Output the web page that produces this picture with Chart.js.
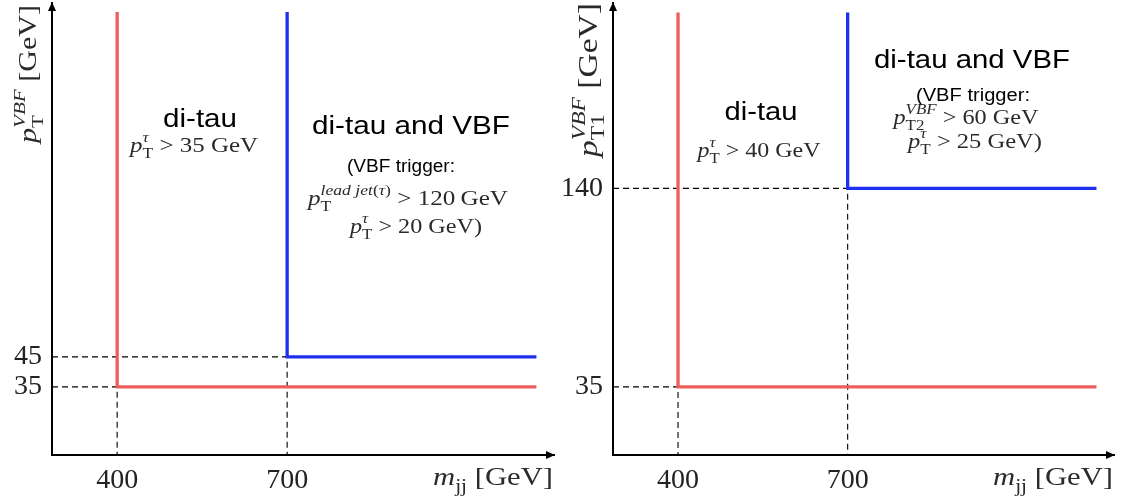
<!DOCTYPE html>
<html>
<head>
<meta charset="utf-8">
<script src="https://cdn.jsdelivr.net/npm/chart.js@4.4.1/dist/chart.umd.min.js"></script>
<style>
  html, body { margin: 0; padding: 0; background: #fff; }
  .wrap { display: flex; width: 1127px; height: 497px; }
  canvas { display: block; }
</style>
</head>
<body>
<div class="wrap">
  <canvas id="left" width="560" height="497"></canvas>
  <canvas id="right" width="567" height="497"></canvas>
</div>
<script>
// m_jj cuts, shared by both panels
const mjjCuts = [400, 700];
const mjjTickLabels = ['400', '700'];
const mjjRange = [285, 1171];
const mjjEnd = 1140;

// left panel: pT^VBF cuts (red = di-tau, blue = di-tau and VBF)
const leftPtCuts = [35, 45];
const leftPtTickLabels = ['35', '45'];
const leftPtRange = [12.3, 163];
const leftPtTop = 160;

// right panel: pT1^VBF cuts
const rightPtCuts = [35, 140];
const rightPtTickLabels = ['35', '140'];
const rightPtRange = [-1, 238];
const rightPtTop = 233;

const RED = '#ee5d5d';
const BLUE = '#1f2ff0';
const SERIF = '"Liberation Serif", "Times New Roman", serif';
const SANS = '"Liberation Sans", Arial, sans-serif';

function runFont(kind, size) {
    if (kind === 's') return size + 'px ' + SANS;
    if (kind === 'i') return 'italic ' + size + 'px ' + SERIF;
    return size + 'px ' + SERIF;
}

// runs: [text, kind, level]  level 1 = superscript, -1 = subscript
function layoutRuns(ctx, runs, size) {
    let x = 0, maxX = 0, scriptStart = 0, prev = 0;
    const items = [];
    runs.forEach(([t, kind, level]) => {
        const s = level ? size * 0.7 : size;
        const font = runFont(kind, s);
        ctx.font = font;
        if (level && prev && level !== prev) x = scriptStart;
        else if (level && !prev) scriptStart = x;
        else if (!level && prev) x = maxX;
        const dy = level > 0 ? -0.46 * size : level < 0 ? 0.27 * size : 0;
        items.push({ t, font, x, dy });
        x += ctx.measureText(t).width;
        maxX = Math.max(maxX, x);
        prev = level;
    });
    return { items, width: maxX };
}

function drawMath(ctx, spec) {
    const { runs, x, y, size, w, align = 'center', rotate = false, color = '#2a2a2a' } = spec;
    ctx.save();
    const lay = layoutRuns(ctx, runs, size);
    const sx = w ? w / lay.width : 1;
    const total = lay.width * sx;
    ctx.translate(x, y);
    if (rotate) ctx.rotate(-Math.PI / 2);
    ctx.translate(align === 'center' ? -total / 2 : align === 'right' ? -total : 0, 0);
    ctx.scale(sx, 1);
    ctx.fillStyle = color;
    ctx.textAlign = 'left';
    ctx.textBaseline = 'alphabetic';
    lay.items.forEach(it => {
        ctx.font = it.font;
        ctx.fillText(it.t, it.x, it.dy);
    });
    ctx.restore();
}

// arrows on the axes + all the labels
const decoPlugin = {
    id: 'deco',
    afterDraw(chart, args, opts) {
        const { ctx, chartArea: a } = chart;
        ctx.save();
        ctx.fillStyle = '#000';
        ctx.beginPath();
        ctx.moveTo(a.right + 1, a.bottom);
        ctx.lineTo(a.right - 8, a.bottom - 4);
        ctx.lineTo(a.right - 8, a.bottom + 4);
        ctx.closePath();
        ctx.fill();
        ctx.beginPath();
        ctx.moveTo(a.left, a.top - 1);
        ctx.lineTo(a.left - 4, a.top + 8);
        ctx.lineTo(a.left + 4, a.top + 8);
        ctx.closePath();
        ctx.fill();
        ctx.restore();
        (opts.texts || []).forEach(t => drawMath(ctx, t));
    }
};

const ptTau = (rest) => [['p', 'i', 0], ['T', 'r', -1], ['τ', 'i', 1], [rest, 'r', 0]];
const mjjTitle = [['m', 'i', 0], ['jj', 'r', -1], [' [GeV]', 'r', 0]];

function makePanel(id, cfg) {
    const [xMin, xMax] = mjjRange;
    const [yMin, yMax] = cfg.yRange;
    const cuts = cfg.yCuts;
    const colored = [
        { data: [{ x: mjjCuts[0], y: cfg.top }, { x: mjjCuts[0], y: cuts[0] }, { x: mjjEnd, y: cuts[0] }], borderColor: RED },
        { data: [{ x: mjjCuts[1], y: cfg.top }, { x: mjjCuts[1], y: cuts[1] }, { x: mjjEnd, y: cuts[1] }], borderColor: BLUE }
    ].map(d => ({ ...d, borderWidth: 3.3, borderJoinStyle: 'miter' }));
    const dashed = cuts.map((c, i) => ({
        data: [{ x: xMin, y: c }, { x: mjjCuts[i], y: c }, { x: mjjCuts[i], y: yMin }],
        borderColor: '#000',
        borderWidth: 1.1,
        borderDash: [6, 4]
    }));

    new Chart(document.getElementById(id), {
        type: 'scatter',
        data: { datasets: colored.concat(dashed).map(d => ({ ...d, showLine: true, pointRadius: 0, fill: false })) },
        plugins: [decoPlugin],
        options: {
            responsive: false,
            animation: false,
            devicePixelRatio: 1,
            layout: { padding: { top: 3, right: cfg.padRight, left: 0, bottom: 0 } },
            plugins: {
                legend: { display: false },
                tooltip: { enabled: false },
                deco: { texts: cfg.texts }
            },
            scales: {
                x: {
                    type: 'linear', min: xMin, max: xMax,
                    grid: { display: false, drawTicks: false },
                    border: { display: true, color: '#000', width: 2 },
                    afterBuildTicks: s => { s.ticks = mjjCuts.map(v => ({ value: v })); },
                    afterFit: s => { s.height = 42; s.paddingLeft = 0; s.paddingRight = 0; },
                    ticks: {
                        autoSkip: false, maxRotation: 0, padding: 9, color: '#222',
                        font: { family: SERIF, size: 28 },
                        callback: v => mjjTickLabels[mjjCuts.indexOf(v)]
                    }
                },
                y: {
                    type: 'linear', min: yMin, max: yMax,
                    grid: { display: false, drawTicks: false },
                    border: { display: true, color: '#000', width: 2 },
                    afterBuildTicks: s => { s.ticks = cuts.map(v => ({ value: v })); },
                    afterFit: s => { s.width = cfg.axisWidth; s.paddingTop = 0; s.paddingBottom = 0; },
                    ticks: {
                        autoSkip: false, padding: 10, color: '#222',
                        font: { family: SERIF, size: 28 },
                        callback: v => cfg.yTickLabels[cuts.indexOf(v)]
                    }
                }
            }
        }
    });
}

makePanel('left', {
    yRange: leftPtRange, yCuts: leftPtCuts, yTickLabels: leftPtTickLabels, top: leftPtTop,
    axisWidth: 52, padRight: 6,
    texts: [
        { runs: [['p', 'i', 0], ['T', 'r', -1], ['VBF', 'i', 1], [' [GeV]', 'r', 0]], x: 36, y: 74, size: 25, w: 138, rotate: true },
        { runs: mjjTitle, x: 553, y: 485, size: 26, w: 120, align: 'right' },
        { runs: [['di-tau', 's', 0]], x: 200, y: 127, size: 26, w: 74, color: '#000' },
        { runs: ptTau(' > 35 GeV'), x: 194, y: 152, size: 22, w: 128 },
        { runs: [['di-tau and VBF', 's', 0]], x: 411, y: 134, size: 26, w: 198, color: '#000' },
        { runs: [['(VBF trigger:', 's', 0]], x: 401, y: 172, size: 18, w: 108, color: '#000' },
        { runs: [['p', 'i', 0], ['T', 'r', -1], ['lead jet', 'i', 1], ['(', 'r', 1], ['τ', 'i', 1], [')', 'r', 1], [' > 120\u2009GeV', 'r', 0]], x: 408, y: 205, size: 22, w: 200 },
        { runs: ptTau(' > 20 GeV)'), x: 416, y: 233, size: 22, w: 132 }
    ]
});

makePanel('right', {
    yRange: rightPtRange, yCuts: rightPtCuts, yTickLabels: rightPtTickLabels, top: rightPtTop,
    axisWidth: 53, padRight: 13,
    texts: [
        { runs: [['p', 'i', 0], ['T1', 'r', -1], ['VBF', 'i', 1], [' [GeV]', 'r', 0]], x: 37, y: 80, size: 27, w: 154, rotate: true },
        { runs: mjjTitle, x: 553, y: 485, size: 26, w: 120, align: 'right' },
        { runs: [['di-tau', 's', 0]], x: 201, y: 120, size: 26, w: 73, color: '#000' },
        { runs: ptTau(' > 40 GeV'), x: 199, y: 157, size: 22, w: 123 },
        { runs: [['di-tau and VBF', 's', 0]], x: 412, y: 68, size: 26, w: 196, color: '#000' },
        { runs: [['(VBF trigger:', 's', 0]], x: 413, y: 101, size: 18, w: 114, color: '#000' },
        { runs: [['p', 'i', 0], ['T2', 'r', -1], ['VBF', 'i', 1], [' > 60 GeV', 'r', 0]], x: 406, y: 124, size: 22, w: 145 },
        { runs: ptTau(' > 25 GeV)'), x: 415, y: 148, size: 22, w: 134 }
    ]
});
</script>
</body>
</html>
